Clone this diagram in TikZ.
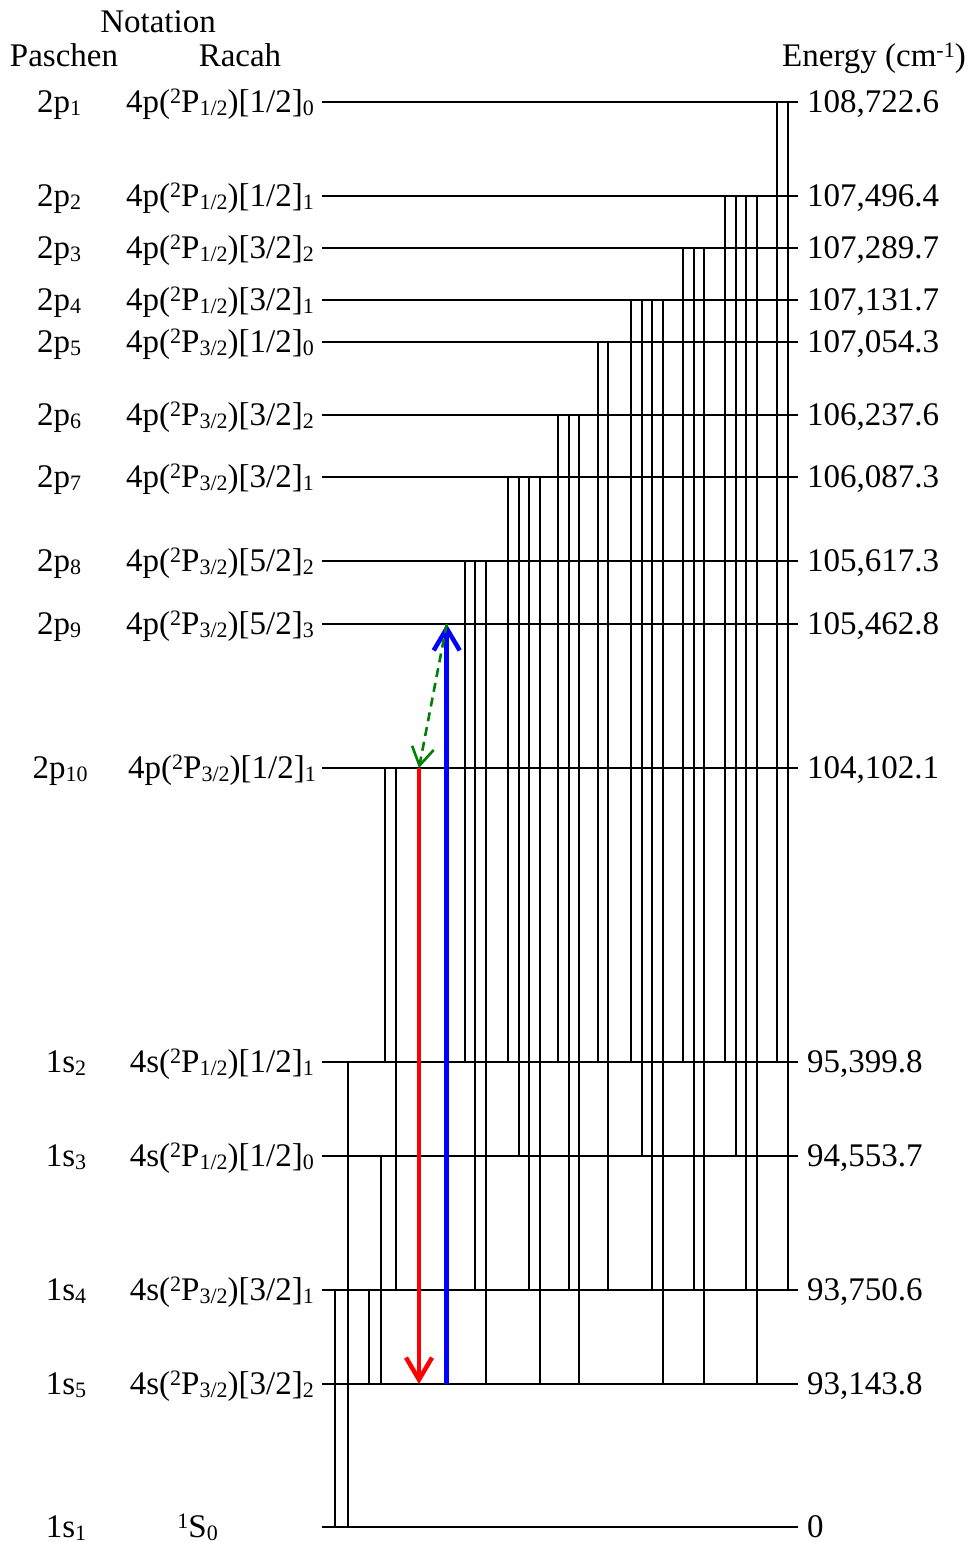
\documentclass[tikz,border=0pt]{standalone}
\usepackage{fontspec}
\setmainfont{Liberation Serif}
\usetikzlibrary{arrows.meta}
\newcommand{\lo}[1]{\raisebox{-3pt}{\fontsize{22}{22}\selectfont #1}}
\newcommand{\hi}[1]{\raisebox{9pt}{\fontsize{22}{22}\selectfont #1}}
\newcommand{\rac}[4]{#1(\hi{2}P\lo{#2})[#3]\lo{#4}}

\begin{document}
\begin{tikzpicture}[
    x=1pt, y=-1pt,
    every node/.style={font=\fontsize{33}{40}\selectfont,inner sep=0pt},
    level/.style={line width=2pt},
    trans/.style={line width=1.9pt},
    emit/.style={line width=4.5pt,color=red,-{Straight Barb[length=22pt,width=26pt]}},
    absorb/.style={line width=4.5pt,color=blue,-{Straight Barb[length=22pt,width=26pt]}},
    relax/.style={line width=2.6pt,color=green!50!black,dash pattern=on 9pt off 6pt,-{Straight Barb[length=18pt,width=22pt]}}
  ]
    \useasboundingbox (0,0) rectangle (972,1542);
    \node[anchor=base] (notation) at (158,32) {Notation};
    \node[anchor=base] (paschen) at (64,66) {Paschen};
    \node[anchor=base] (racah) at (240,66) {Racah};
    \node[anchor=base] (energy) at (874,66) {Energy (cm\hi{-1})};
    \foreach \n/\y/\px/\pa/\rx/\ra/\en in {
        p1/102/59/{2p\lo{1}}/314/{\rac{4p}{1/2}{1/2}{0}}/{108,722.6},
        p2/196/59/{2p\lo{2}}/314/{\rac{4p}{1/2}{1/2}{1}}/{107,496.4},
        p3/248/59/{2p\lo{3}}/314/{\rac{4p}{1/2}{3/2}{2}}/{107,289.7},
        p4/300/59/{2p\lo{4}}/314/{\rac{4p}{1/2}{3/2}{1}}/{107,131.7},
        p5/342/59/{2p\lo{5}}/314/{\rac{4p}{3/2}{1/2}{0}}/{107,054.3},
        p6/415/59/{2p\lo{6}}/314/{\rac{4p}{3/2}{3/2}{2}}/{106,237.6},
        p7/477/59/{2p\lo{7}}/314/{\rac{4p}{3/2}{3/2}{1}}/{106,087.3},
        p8/561/59/{2p\lo{8}}/314/{\rac{4p}{3/2}{5/2}{2}}/{105,617.3},
        p9/624/59/{2p\lo{9}}/314/{\rac{4p}{3/2}{5/2}{3}}/{105,462.8},
        p10/768/60/{2p\lo{10}}/316/{\rac{4p}{3/2}{1/2}{1}}/{104,102.1},
        s2/1062/66/{1s\lo{2}}/314/{\rac{4s}{1/2}{1/2}{1}}/{95,399.8},
        s3/1156/66/{1s\lo{3}}/314/{\rac{4s}{1/2}{1/2}{0}}/{94,553.7},
        s4/1290/66/{1s\lo{4}}/314/{\rac{4s}{3/2}{3/2}{1}}/{93,750.6},
        s5/1384/66/{1s\lo{5}}/314/{\rac{4s}{3/2}{3/2}{2}}/{93,143.8},
        s1/1527/66/{1s\lo{1}}/218/{\hi{1}S\lo{0}}/{0}}{
      \coordinate (\n) at (322,\y);
      \draw[level] (\n) -- ++(476,0);
      \node[anchor=base] (pa\n) at (\px,\y+10) {\pa};
      \node[anchor=base east] (ra\n) at (\rx,\y+10) {\ra};
      \node[anchor=base west] (en\n) at (807,\y+10) {\en};
    }
    \foreach \x/\a/\b in {777.3/p1/s2, 787.7/p1/s4,
        725.3/p2/s2, 735.7/p2/s3, 746.3/p2/s4, 756.7/p2/s5,
        683.3/p3/s2, 693.7/p3/s4, 704.3/p3/s5,
        631.3/p4/s2, 642/p4/s3, 652.3/p4/s4, 662.7/p4/s5,
        598/p5/s2, 608.3/p5/s4,
        558.3/p6/s2, 568.7/p6/s4, 579.3/p6/s5,
        508.3/p7/s2, 519/p7/s3, 529.3/p7/s4, 539.7/p7/s5,
        464.7/p8/s2, 475/p8/s4, 485.7/p8/s5,
        385/p10/s2, 396/p10/s4,
        347.7/s2/s1, 381/s3/s5, 335/s4/s1, 369.3/s4/s5}
      \draw[trans] (\x,0 |- \a) -- (\x,0 |- \b);
    \draw[emit] (419,0 |- p10) -- (419,0 |- s5);
    \draw[absorb] (446.7,0 |- s5) -- (446.7,0 |- p9);
    \draw[relax] (446.7,0 |- p9) -- (419,0 |- p10);
\end{tikzpicture}
\end{document}
